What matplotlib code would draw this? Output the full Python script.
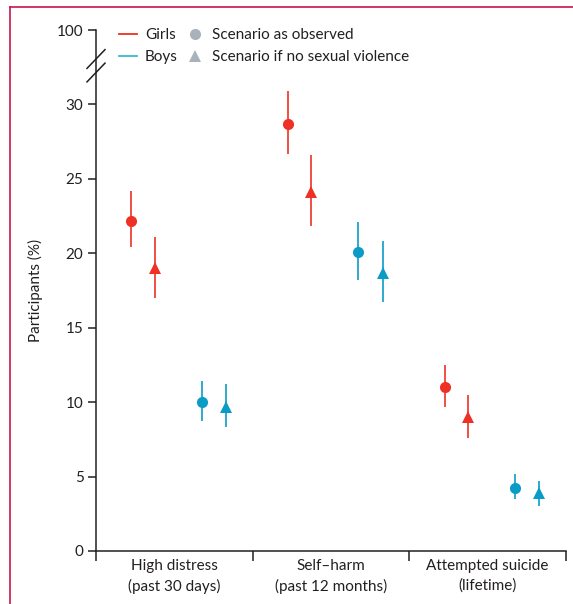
import matplotlib
matplotlib.use("Agg")
import matplotlib.pyplot as plt
from matplotlib.lines import Line2D
import numpy as np

plt.rcParams['font.family'] = ['Lato', 'DejaVu Sans']

categories = ["High distress\n(past 30 days)", "Self\u2013harm\n(past 12 months)", "Attempted suicide\n(lifetime)"]

girls_obs = [22.2, 28.7, 11.0]
girls_obs_lo = [20.4, 26.7, 9.7]
girls_obs_hi = [24.2, 30.9, 12.5]

girls_nsv = [19.0, 24.1, 9.0]
girls_nsv_lo = [17.0, 21.8, 7.6]
girls_nsv_hi = [21.1, 26.6, 10.5]

boys_obs = [10.0, 20.1, 4.2]
boys_obs_lo = [8.7, 18.2, 3.5]
boys_obs_hi = [11.4, 22.1, 5.2]

boys_nsv = [9.7, 18.7, 3.9]
boys_nsv_lo = [8.3, 16.7, 3.0]
boys_nsv_hi = [11.2, 20.8, 4.7]

yticks = [0, 5, 10, 15, 20, 25, 30, 35]
yticklabels = ["0", "5", "10", "15", "20", "25", "30", "100"]

RED = "#EE3124"
BLUE = "#0A9CC6"
BLUE_LEG = "#3DB7D3"
GREY = "#A9B2BB"
TXT = "#231F20"
FS = 11

W, H = 573, 604
fig = plt.figure(figsize=(W / 100, H / 100), dpi=100)
ax = fig.add_axes([96 / W, 1 - 551 / H, (566 - 96) / W, (551 - 30) / H])

x = np.arange(len(categories))
offsets = [-0.275, -0.125, 0.175, 0.33]
series = [
    (girls_obs, girls_obs_lo, girls_obs_hi, RED, "o"),
    (girls_nsv, girls_nsv_lo, girls_nsv_hi, RED, "^"),
    (boys_obs, boys_obs_lo, boys_obs_hi, BLUE, "o"),
    (boys_nsv, boys_nsv_lo, boys_nsv_hi, BLUE, "^"),
]
for (vals, lo, hi, col, mk), off in zip(series, offsets):
    vals = np.array(vals); lo = np.array(lo); hi = np.array(hi)
    ax.errorbar(x + off, vals, yerr=[vals - lo, hi - vals], fmt=mk, color=col,
                ecolor=col, elinewidth=1.2, capsize=0,
                markersize=8 if mk == "o" else 8.5, markeredgewidth=0, zorder=3)

ax.set_xlim(-0.5, 2.5)
ax.set_ylim(0, 35)
for s in ["top", "right"]:
    ax.spines[s].set_visible(False)
for s in ["left", "bottom"]:
    ax.spines[s].set_color(TXT)
    ax.spines[s].set_linewidth(1.1)

ax.set_yticks(yticks)
ax.set_yticklabels(yticklabels)
ax.tick_params(axis="y", direction="out", length=6, width=1.1, color=TXT,
               labelsize=FS, labelcolor=TXT, pad=3)

ax.set_xticks([-0.5, 0.5, 1.5, 2.5])
ax.set_xticklabels([])
ax.tick_params(axis="x", which="major", direction="out", length=7, width=1.1, color=TXT)
ax.set_xticks(x, minor=True)
ax.set_xticklabels(categories, minor=True, linespacing=1.45)
ax.tick_params(axis="x", which="minor", length=0, labelsize=FS, labelcolor=TXT, pad=6)

ax.set_ylabel("Participants (%)", fontsize=FS, color=TXT, labelpad=10)

# axis break slashes
dx = 9 / 470
for yc in [(551 - 59) / 521, (551 - 72.5) / 521]:
    ax.plot([-dx, dx], [yc - 0.018, yc + 0.018], transform=ax.transAxes,
            color=TXT, lw=1.1, clip_on=False)

# legend
handles = [
    Line2D([], [], color=RED, lw=1.3),
    Line2D([], [], color=BLUE_LEG, lw=1.3),
    Line2D([], [], color=GREY, marker="o", ls="none", markersize=8, markeredgewidth=0),
    Line2D([], [], color=GREY, marker="^", ls="none", markersize=9, markeredgewidth=0),
]
labels = ["Girls", "Boys", "Scenario as observed", "Scenario if no sexual violence"]
fig.legend(handles, labels, ncol=2, loc="upper left",
           bbox_to_anchor=(119 / W, 1 - 28 / H), frameon=False, fontsize=FS,
           handlelength=1.2, handletextpad=0.5, columnspacing=0.55,
           labelspacing=0.55, borderaxespad=0, borderpad=0, labelcolor=TXT)

# frame border (top and left)
BORDER = "#C8174A"
fig.add_artist(Line2D([10 / W, 1], [1 - 7 / H, 1 - 7 / H], transform=fig.transFigure, color=BORDER, lw=1.2))
fig.add_artist(Line2D([10 / W, 10 / W], [0, 1 - 7 / H], transform=fig.transFigure, color=BORDER, lw=1.2))

fig.savefig("out.png", dpi=100)
